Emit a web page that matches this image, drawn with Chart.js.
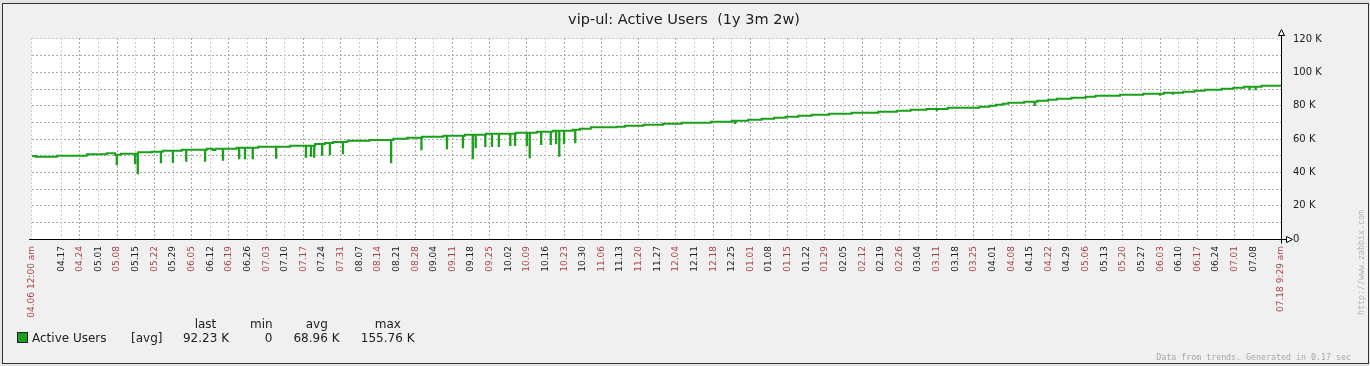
<!DOCTYPE html>
<html><head><meta charset="utf-8">
<script src="https://cdn.jsdelivr.net/npm/chart.js@4.4.1/dist/chart.umd.min.js"></script>
<style>html,body{margin:0;padding:0;background:#f0f0f0;overflow:hidden}canvas{display:block}</style>
</head><body>
<canvas id="c" width="1370" height="366"></canvas>
<script>
// ---------- data ----------
const chartTitle = 'vip-ul: Active Users  (1y 3m 2w)';
const seriesName = 'Active Users';
const seriesFunc = '[avg]';
const legendHeads = ['last', 'min', 'avg', 'max'];
const legendStats = ['92.23 K', '0', '68.96 K', '155.76 K'];
const footerText = 'Data from trends. Generated in 0.17 sec';
const siteText = 'http://www.zabbix.com';

// x axis in days since 04.06 12:00 am
const spanDays = 469.395;
const startLabel = '04.06 12:00 am';
const endLabel = '07.18 9:29 am';
const tickDays = [11,18,25,32,39,46,53,60,67,74,81,88,95,102,109,116,123,130,137,144,151,158,165,172,179,186,193,200,207,214,221,228,235,242,249,256,263,270,277,284,291,298,305,312,319,326,333,340,347,354,361,368,375,382,389,396,403,410,417,424,431,438,445,452,459];
const tickLabels = ['04.17','04.24','05.01','05.08','05.15','05.22','05.29','06.05','06.12','06.19','06.26','07.03','07.10','07.17','07.24','07.31','08.07','08.14','08.21','08.28','09.04','09.11','09.18','09.25','10.02','10.09','10.16','10.23','10.30','11.06','11.13','11.20','11.27','12.04','12.11','12.18','12.25','01.01','01.08','01.15','01.22','01.29','02.05','02.12','02.19','02.26','03.04','03.11','03.18','03.25','04.01','04.08','04.15','04.22','04.29','05.06','05.13','05.20','05.27','06.03','06.10','06.17','06.24','07.01','07.08'];
const tickHighlight = [0,1,0,1,0,1,0,1,0,1,0,1,0,1,0,1,0,1,0,1,0,1,0,1,0,1,0,1,0,1,0,1,0,1,0,1,0,1,0,1,0,1,0,1,0,1,0,1,0,1,0,1,0,1,0,1,0,1,0,1,0,1,0,1,0];

const yTickValues = [0, 20000, 40000, 60000, 80000, 100000, 120000];
const yTickLabels = ['0', '20 K', '40 K', '60 K', '80 K', '100 K', '120 K'];
const yGridValues = [10000, 20000, 30000, 40000, 50000, 60000, 70000, 80000, 90000, 100000, 110000];

// stepped trend level (value holds from its day until the next day)
const stepDays = [0,1.5,9.3,20.6,28.1,31.2,33.4,39.9,45.0,49.1,56.3,65.7,67.9,68.9,76.9,85.0,97.0,106.4,110.1,113.2,118.5,126.8,135.8,141.0,146.6,154.6,162.7,170.6,181.8,189.7,195.7,203.2,205.9,210.0,219.7,222.9,229.8,237.1,244.2,255.1,263.0,269.2,274.2,278.9,283.2,288.0,293.0,299.6,308.0,318.0,325.0,330.2,336.2,344.1,356.0,359.8,362.3,364.8,366.9,372.9,377.8,381.9,385.1,390.7,396.0,399.7,408.9,417.6,425.4,432.6,436.9,440.7,447.1,451.5,455.5,462.1,469.395];
const stepValues = [49800,49400,50000,50800,51400,50600,51200,52000,52400,53000,53600,54200,53400,54200,54800,55400,56000,57000,57600,58200,59000,59400,60200,60800,61400,62000,62600,63200,63800,64400,65000,65600,66200,67000,67400,68000,68600,69200,69800,70400,71000,71600,72200,72800,73400,74000,74600,75200,75800,76400,77000,77600,78000,78800,79400,80000,80600,81200,81800,82400,83000,83600,84200,84800,85400,86000,86600,87200,87800,88400,89000,89500,90200,90800,91400,92000,92230];
// short drops
const dipDays = [31.8,38.7,39.7,48.4,52.9,57.9,65.0,71.7,77.8,80.0,82.9,91.7,102.9,104.8,106.0,109.0,111.9,116.8,134.9,146.3,155.9,161.9,165.6,166.7,170.3,172.8,175.4,179.7,181.5,185.9,187.0,191.3,194.9,196.9,198.1,199.9,204.1,264.2,340.0,376.8,423.9,428.7,457.5,459.8];
const dipValues = [44800,45400,39400,46000,46400,47000,47000,47600,48400,48400,48400,48800,49400,50000,49400,50600,50800,51400,46000,53800,54400,55000,48400,55000,55800,55800,55800,56400,56400,56400,49000,57000,57000,57400,50000,57400,58000,69600,77200,80400,86600,87200,89800,89800];

// ---------- styles ----------
const C = {
  bg: '#f0f0f0', plot: '#ffffff', border: '#333333',
  grid: '#cccccc', mainGrid: '#aaaaaa', text: '#202020', highlight: '#aa4444',
  line: '#1aa01a', faint: '#a8a8a8'
};

// ---------- build ----------
function baseAt(d) {
  let v = stepValues[0];
  for (let i = 0; i < stepDays.length; i++) if (stepDays[i] <= d) v = stepValues[i];
  return v;
}
const pts = stepDays.map((d, i) => ({ x: d, y: stepValues[i] }));
dipDays.forEach((d, i) => {
  pts.push({ x: d, y: dipValues[i] });
  pts.push({ x: d + 0.12, y: baseAt(d + 0.12) });
});
pts.sort((a, b) => a.x - b.x);

const allTickDays = [0, ...tickDays, spanDays];
const allTickLabels = [startLabel, ...tickLabels, endLabel];
const allTickColors = [C.highlight, ...tickHighlight.map(h => h ? C.highlight : C.text), C.highlight];

const zbx = {
  id: 'zbx',
  beforeDraw(chart) {
    const c = chart.ctx, a = chart.chartArea;
    c.save();
    c.fillStyle = '#e4e4e4'; c.fillRect(0, 0, chart.width, chart.height);
    c.fillStyle = C.bg; c.fillRect(2, 3, 1367, 361);
    c.fillStyle = C.plot; c.fillRect(a.left, a.top, a.right - a.left, a.bottom - a.top);
    c.restore();
  },
  beforeDatasetsDraw(chart) {
    const c = chart.ctx, a = chart.chartArea, xs = chart.scales.x, ys = chart.scales.y;
    c.save();
    c.lineWidth = 1;
    c.setLineDash([2, 2]);
    // borders of plot (light)
    c.strokeStyle = C.grid;
    c.beginPath();
    c.moveTo(a.left, a.top - 0.5); c.lineTo(a.right, a.top - 0.5);
    c.moveTo(a.left - 0.5, a.top - 1); c.lineTo(a.left - 0.5, a.bottom);
    c.stroke();
    // horizontal grid
    c.strokeStyle = C.mainGrid;
    c.beginPath();
    yGridValues.forEach(v => {
      const y = Math.floor(ys.getPixelForValue(v)) + 0.5;
      c.moveTo(a.left, y); c.lineTo(a.right, y);
    });
    c.stroke();
    // vertical grid
    tickDays.forEach((d, i) => {
      const x = Math.floor(xs.getPixelForValue(d)) + 0.5;
      c.strokeStyle = tickHighlight[i] ? C.mainGrid : C.grid;
      c.beginPath();
      c.moveTo(x, a.top - 1); c.lineTo(x, a.bottom);
      c.stroke();
    });
    c.restore();
  },
  afterDatasetsDraw(chart) {
    const c = chart.ctx, a = chart.chartArea;
    c.save();
    c.setLineDash([]);
    c.lineWidth = 1;
    c.strokeStyle = '#000';
    const xr = a.right + 0.5, yb = a.bottom + 0.5;
    c.beginPath();
    c.moveTo(a.left - 3, yb); c.lineTo(xr + 5, yb);
    c.moveTo(xr, yb + 4); c.lineTo(xr, a.top - 4);
    c.stroke();
    c.fillStyle = '#fff';
    // top arrow
    c.beginPath();
    c.moveTo(xr, a.top - 9.5); c.lineTo(xr - 3, a.top - 3.5); c.lineTo(xr + 3, a.top - 3.5); c.closePath();
    c.fill(); c.stroke();
    // right arrow
    c.beginPath();
    c.moveTo(xr + 11, yb); c.lineTo(xr + 5, yb - 3); c.lineTo(xr + 5, yb + 3); c.closePath();
    c.fill(); c.stroke();

    // title
    c.fillStyle = C.text;
    c.font = '14.5px "DejaVu Sans"';
    c.textAlign = 'center'; c.textBaseline = 'middle';
    c.fillText(chartTitle, 684, 20);

    // legend
    c.font = '12px "DejaVu Sans"';
    const headX = [205.5, 261.3, 316.8, 387.8];
    legendHeads.forEach((h, i) => { c.textAlign = 'center'; c.fillText(h, headX[i], 325); });
    c.fillStyle = C.line;
    c.fillRect(18, 333, 9, 9);
    c.strokeStyle = '#222';
    c.strokeRect(17.5, 332.5, 10, 10);
    c.fillStyle = C.text;
    c.textAlign = 'left';
    c.fillText(seriesName, 32, 338.5);
    c.fillText(seriesFunc, 131, 338.5);
    const valX = [229, 272.5, 339.5, 414.5];
    c.textAlign = 'right';
    legendStats.forEach((s, i) => c.fillText(s, valX[i], 338.5));

    // footer and site
    c.fillStyle = C.faint;
    c.font = '8.3px "DejaVu Sans Mono"';
    c.textAlign = 'right';
    c.fillText(footerText, 1351, 357.5);
    c.save();
    c.translate(1362, 315);
    c.rotate(-Math.PI / 2);
    c.textAlign = 'left';
    c.fillStyle = '#b4b4b4';
    c.fillText(siteText, 0, 0);
    c.restore();

    // outer frame
    c.strokeStyle = C.border;
    c.strokeRect(2.5, 3.5, 1366, 360);
    c.restore();
  }
};

new Chart(document.getElementById('c'), {
  type: 'line',
  data: {
    datasets: [{
      label: seriesName,
      data: pts,
      borderColor: C.line,
      backgroundColor: C.line,
      borderWidth: 2,
      pointRadius: 0,
      stepped: true,
      fill: false,
      tension: 0,
      borderJoinStyle: 'miter',
      borderCapStyle: 'butt'
    }]
  },
  options: {
    responsive: false,
    animation: false,
    events: [],
    layout: { padding: { left: 32, top: 39, right: 0, bottom: 0 } },
    plugins: { legend: { display: false }, title: { display: false }, tooltip: { enabled: false } },
    scales: {
      x: {
        type: 'linear', position: 'bottom', min: 0, max: spanDays,
        grid: { display: false, drawTicks: false },
        border: { display: false },
        afterBuildTicks: s => { s.ticks = allTickDays.map(v => ({ value: v })); },
        afterFit: s => { s.height = 127; },
        ticks: {
          autoSkip: false, minRotation: 90, maxRotation: 90, padding: 7,
          font: { family: 'DejaVu Sans', size: 9 },
          color: ctx => allTickColors[ctx.index],
          callback: (v, i) => allTickLabels[i]
        }
      },
      y: {
        type: 'linear', position: 'right', min: 0, max: 120000,
        grid: { display: false, drawTicks: false },
        border: { display: false },
        afterBuildTicks: s => { s.ticks = yTickValues.map(v => ({ value: v })); },
        afterFit: s => { s.width = 89; },
        ticks: {
          padding: 12,
          font: { family: 'DejaVu Sans', size: 10 },
          color: C.text,
          callback: (v, i) => yTickLabels[i]
        }
      }
    }
  },
  plugins: [zbx]
});
</script>
</body></html>
